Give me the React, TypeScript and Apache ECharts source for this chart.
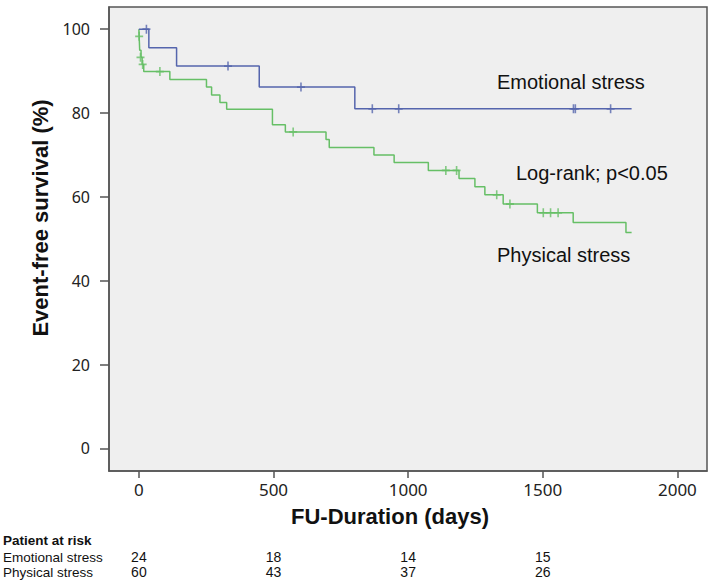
import React, { useEffect, useRef } from "react";
import * as echarts from "echarts";

// Kaplan-Meier step points [day, survival %]
const emotionalSteps: [number, number][] = [
  [0, 100], [37, 95.6], [140, 91.2], [447, 86.2], [802, 81.0], [1830, 81.0],
];
const emotionalCensored: [number, number][] = [
  [28, 100], [331, 91.2], [602, 86.2], [867, 81.0], [965, 81.0], [1614, 81.0], [1621, 81.0], [1752, 81.0],
];
const physicalSteps: [number, number][] = [
  [0, 100], [1, 98.3], [3, 95.0], [8, 93.3], [12, 91.6], [18, 89.9], [115, 88.0], [251, 86.2],
  [270, 84.3], [301, 82.5], [326, 80.9], [496, 77.2], [544, 75.5], [695, 73.7], [707, 71.8],
  [873, 70.0], [948, 68.2], [1075, 66.3], [1189, 64.4], [1248, 62.4], [1285, 60.5], [1353, 58.3],
  [1480, 56.2], [1613, 53.9], [1809, 51.5], [1830, 51.5],
];
const physicalCensored: [number, number][] = [
  [1, 98.3], [6, 93.3], [14, 91.6], [78, 89.9], [573, 75.5], [1140, 66.3], [1180, 66.3],
  [1329, 60.5], [1378, 58.3], [1502, 56.2], [1529, 56.2], [1557, 56.2],
];

const xTicks = [0, 500, 1000, 1500, 2000];
const yTicks = [0, 20, 40, 60, 80, 100];

const riskTitle = "Patient at risk";
const riskTimes = [0, 500, 1000, 1500];
const riskGroups = ["Emotional stress", "Physical stress"];
const emotionalAtRisk = [24, 18, 14, 15];
const physicalAtRisk = [60, 43, 37, 26];

const BLUE = "#5565ad";
const GREEN = "#66bf66";
const AXIS = "#555555";
const SANS = "'Liberation Sans', Arial, sans-serif";
const TICKFONT = "'Noto Sans', 'Open Sans', sans-serif";
const CROSS = "path://M4 0H6V4H10V6H6V10H4V6H0V4H4Z";

export default function App() {
  const ref = useRef<HTMLDivElement>(null);
  useEffect(() => {
    if (!ref.current) return;
    const chart = echarts.init(ref.current, undefined, { renderer: "svg" });
    chart.setOption({
      animation: false,
      backgroundColor: "#ffffff",
      grid: {
        left: 109, top: 7, width: 598, height: 464,
        show: true, backgroundColor: "#efefef", borderColor: AXIS, borderWidth: 1.5,
      },
      xAxis: {
        type: "value", min: -111, max: 2110,
        name: "FU-Duration (days)", nameLocation: "middle", nameGap: 34,
        nameTextStyle: { fontFamily: SANS, fontWeight: "bold", fontSize: 22, color: "#111", padding: [0, 36, 0, 0] },
        axisLine: { show: true, onZero: false, lineStyle: { color: AXIS, width: 1.5 } },
        axisTick: { show: true, customValues: xTicks, length: 7, lineStyle: { color: AXIS, width: 1.5 } },
        axisLabel: { customValues: xTicks, margin: 10, fontFamily: TICKFONT, fontSize: 17, color: "#222", formatter: (v: number) => String(v) },
        splitLine: { show: false },
      },
      yAxis: {
        type: "value", min: -5.4, max: 105.3,
        name: "Event-free survival (%)", nameLocation: "middle", nameGap: 57,
        nameTextStyle: { fontFamily: SANS, fontWeight: "bold", fontSize: 22, color: "#111", padding: [0, 0, 0, 42] },
        axisLine: { show: true, onZero: false, lineStyle: { color: AXIS, width: 1.5 } },
        axisTick: { show: true, customValues: yTicks, length: 9, lineStyle: { color: AXIS, width: 1.5 } },
        axisLabel: { customValues: yTicks, margin: 19, fontFamily: TICKFONT, fontSize: 16, color: "#222", formatter: (v: number) => String(v) },
        splitLine: { show: false },
      },
      series: [
        { name: "Emotional stress", type: "line", step: "end", data: emotionalSteps, showSymbol: false, symbol: "none", lineStyle: { color: BLUE, width: 1.5 }, itemStyle: { color: BLUE }, z: 3 },
        { name: "Physical stress", type: "line", step: "end", data: physicalSteps, showSymbol: false, symbol: "none", lineStyle: { color: GREEN, width: 1.5 }, itemStyle: { color: GREEN }, z: 2 },
        { name: "Emotional stress censored", type: "scatter", data: emotionalCensored, symbol: CROSS, symbolSize: [8, 9], itemStyle: { color: BLUE }, z: 4 },
        { name: "Physical stress censored", type: "scatter", data: physicalCensored, symbol: CROSS, symbolSize: [8, 9], itemStyle: { color: GREEN }, z: 4 },
      ],
    });

    const textEl = (text: string, x: number, y: number, fontSize: number, opts: any = {}) => ({
      type: "text", x, y, silent: true,
      style: {
        text, fontSize, fontFamily: SANS, fill: "#111",
        align: opts.align || "left", verticalAlign: "middle", fontWeight: opts.bold ? "bold" : "normal",
      },
    });

    const elements: any[] = [
      textEl("Emotional stress", 497, 82, 20),
      textEl("Log-rank; p<0.05", 516, 173, 20),
      textEl("Physical stress", 497, 255, 20),
      textEl(riskTitle, 3, 540, 13.5, { bold: true }),
      textEl(riskGroups[0], 3, 557, 13.5),
      textEl(riskGroups[1], 3, 572, 13.5),
    ];
    const rows = [emotionalAtRisk, physicalAtRisk];
    const rowY = [557, 572];
    riskTimes.forEach((t, i) => {
      const px = chart.convertToPixel({ xAxisIndex: 0 }, t) as number;
      rows.forEach((row, r) => {
        elements.push(textEl(String(row[i]), px, rowY[r], 14, { align: "center" }));
      });
    });
    chart.setOption({ graphic: { elements } });

    return () => chart.dispose();
  }, []);
  return <div ref={ref} style={{ position: "absolute", left: 0, top: 0, width: 724, height: 583 }} />;
}
